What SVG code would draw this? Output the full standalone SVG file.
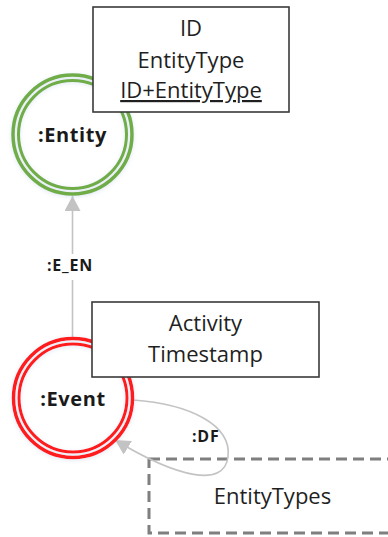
<svg xmlns="http://www.w3.org/2000/svg" width="388" height="537" viewBox="0 0 388 537">
  <style>
    .bg { fill: #ffffff; }
    .ring-outer { fill: none; stroke-width: 3.5; }
    .ring-inner { fill: none; stroke-width: 3; }
    .green { stroke: #70ad47; }
    .red { stroke: #ff1a1a; }
    .node-label { font-family: "Open Sans", "Liberation Sans", sans-serif; font-weight: bold; font-size: 20px; fill: #1a1a1a; text-anchor: middle; letter-spacing: 0.6px; }
    .prop-box { fill: #ffffff; stroke: #3a3a3a; stroke-width: 1.6; }
    .prop-text { font-family: "Open Sans", "Liberation Sans", sans-serif; font-size: 22px; fill: #1f1f1f; text-anchor: middle; }
    .key { text-decoration: underline; }
    .edge { fill: none; stroke: #c3c3c3; stroke-width: 1.6; }
    .edge-label { font-family: "Open Sans", "Liberation Sans", sans-serif; font-weight: bold; font-size: 16px; fill: #1a1a1a; letter-spacing: 0.8px; }
    .dashed-box { fill: none; stroke: #7f7f7f; stroke-width: 3; stroke-dasharray: 11 6; }
  </style>
  <defs>
    <marker id="arrow" markerUnits="userSpaceOnUse" markerWidth="16" markerHeight="18" refX="15" refY="8" orient="auto">
      <path d="M0,0 L15,8 L0,16 Z" fill="#c3c3c3"/>
    </marker>
    <filter id="halo" x="-20%" y="-20%" width="140%" height="140%">
      <feDropShadow dx="0" dy="1" stdDeviation="2" flood-color="#9fb8d8" flood-opacity="0.35"/>
    </filter>
  </defs>

  <rect class="bg" x="0" y="0" width="388" height="537"/>

  <!-- DF properties (unfilled, so the self-loop stays visible through it) -->
  <g id="props-df">
    <rect class="dashed-box" x="149" y="459" width="262" height="74"/>
    <text class="prop-text" x="272.5" y="504">EntityTypes</text>
  </g>

  <!-- connectors -->
  <g id="connectors">
    <g id="edge-e-en">
      <path class="edge" d="M72.5,337 V280 M72.5,254 V196" marker-end="url(#arrow)"/>
      <text class="edge-label" x="47" y="271">:E_EN</text>
    </g>
    <g id="edge-df">
      <path class="edge" d="M133,400 C190,404 232,425 228,457 C224,488 178,478 115,440" marker-end="url(#arrow)"/>
      <text class="edge-label" x="192" y="442">:DF</text>
    </g>
  </g>

  <!-- Entity node -->
  <g id="node-entity">
    <g filter="url(#halo)">
      <circle class="ring-outer green" cx="72.5" cy="134.5" r="59.5"/>
      <circle class="ring-inner green" cx="72.5" cy="134.5" r="54"/>
    </g>
    <text class="node-label" x="72.5" y="142">:Entity</text>
  </g>

  <!-- Entity properties -->
  <g id="props-entity">
    <rect class="prop-box" x="93" y="7" width="196" height="105"/>
    <text class="prop-text" x="191" y="36">ID</text>
    <text class="prop-text" x="191" y="68">EntityType</text>
    <text class="prop-text key" x="191" y="98">ID+EntityType</text>
  </g>

  <!-- Event node -->
  <g id="node-event">
    <g filter="url(#halo)">
      <circle class="ring-outer red" cx="73" cy="398" r="59.5"/>
      <circle class="ring-inner red" cx="73" cy="398" r="54"/>
    </g>
    <text class="node-label" x="73" y="406">:Event</text>
  </g>

  <!-- Event properties -->
  <g id="props-event">
    <rect class="prop-box" x="92" y="302" width="227" height="75"/>
    <text class="prop-text" x="205.5" y="331">Activity</text>
    <text class="prop-text" x="205.5" y="362">Timestamp</text>
  </g>
</svg>
